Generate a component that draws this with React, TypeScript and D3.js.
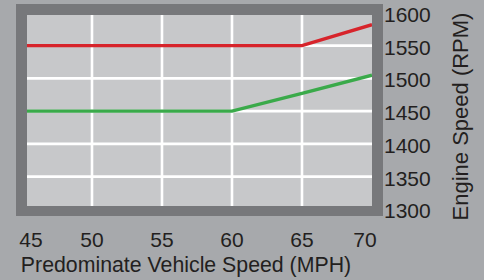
import React, { useEffect, useRef } from "react";
import * as d3 from "d3";

// values
const speeds = [45, 50, 55, 60, 65, 70];
const highRpm = [1550, 1550, 1550, 1550, 1550, 1582];
const lowRpm = [1450, 1450, 1450, 1450, 1477, 1505];
const rpmTicks = [1300, 1350, 1400, 1450, 1500, 1550, 1600];
const gridSpeeds = [50, 55, 60, 65];
const gridRpm = [1350, 1400, 1450, 1500, 1550];

const W = 484;
const H = 280;

export const RpmChart = () => {
  const svgRef = useRef<SVGSVGElement>(null);

  useEffect(() => {
    const svg = d3.select(svgRef.current);
    svg.selectAll("*").remove();

    const inner = { x0: 27, x1: 372, y0: 15, y1: 206 };
    const font = "'Liberation Sans', Arial, Helvetica, sans-serif";
    const ink = "#231f20";

    const x = d3.scaleLinear().domain([45, 70]).range([22, 372]);
    const y = d3.scaleLinear().domain([1300, 1600]).range([209.4, 12.9]);

    svg.append("rect").attr("width", W).attr("height", H).attr("fill", "#a7a9ac");

    // dark frame + light plot area
    svg
      .append("rect")
      .attr("x", 16)
      .attr("y", 4)
      .attr("width", 383 - 16)
      .attr("height", 216 - 4)
      .attr("fill", "#77787b");
    svg
      .append("rect")
      .attr("x", inner.x0)
      .attr("y", inner.y0)
      .attr("width", inner.x1 - inner.x0)
      .attr("height", inner.y1 - inner.y0)
      .attr("fill", "#c7c8ca");

    svg
      .append("defs")
      .append("clipPath")
      .attr("id", "plot-clip")
      .append("rect")
      .attr("x", inner.x0)
      .attr("y", inner.y0)
      .attr("width", inner.x1 - inner.x0)
      .attr("height", inner.y1 - inner.y0);

    const plot = svg.append("g").attr("clip-path", "url(#plot-clip)");

    // white grid
    plot
      .selectAll(".vgrid")
      .data(gridSpeeds)
      .enter()
      .append("line")
      .attr("x1", (d) => x(d))
      .attr("x2", (d) => x(d))
      .attr("y1", inner.y0)
      .attr("y2", inner.y1)
      .attr("stroke", "#fff")
      .attr("stroke-width", 2.6);
    plot
      .selectAll(".hgrid")
      .data(gridRpm)
      .enter()
      .append("line")
      .attr("x1", inner.x0)
      .attr("x2", inner.x1)
      .attr("y1", (d) => y(d))
      .attr("y2", (d) => y(d))
      .attr("stroke", "#fff")
      .attr("stroke-width", 2.6);

    const line = d3
      .line<number>()
      .x((_, i) => x(speeds[i]))
      .y((d) => y(d));

    plot
      .append("path")
      .datum(lowRpm)
      .attr("d", line)
      .attr("fill", "none")
      .attr("stroke", "#3aaa4a")
      .attr("stroke-width", 3.4);
    plot
      .append("path")
      .datum(highRpm)
      .attr("d", line)
      .attr("fill", "none")
      .attr("stroke", "#d7242b")
      .attr("stroke-width", 3.4);

    // right-hand rpm labels
    svg
      .selectAll(".ytick")
      .data(rpmTicks)
      .enter()
      .append("text")
      .attr("x", 384)
      .attr("y", (d) => y(d) + 1.4)
      .attr("dy", "0.36em")
      .attr("font-family", font)
      .attr("font-size", 21)
      .attr("fill", ink)
      .text((d) => d);

    // speed labels (edge labels pulled in like the original)
    svg
      .selectAll(".xtick")
      .data(speeds)
      .enter()
      .append("text")
      .attr("x", (d) => Math.min(Math.max(x(d), 31), 365))
      .attr("y", 246.5)
      .attr("text-anchor", "middle")
      .attr("font-family", font)
      .attr("font-size", 21)
      .attr("fill", ink)
      .text((d) => d);

    svg
      .append("text")
      .attr("x", 186)
      .attr("y", 272)
      .attr("text-anchor", "middle")
      .attr("font-family", font)
      .attr("font-size", 21.3)
      .attr("fill", ink)
      .text("Predominate Vehicle Speed (MPH)");

    svg
      .append("text")
      .attr("transform", "translate(468,116.5) rotate(-90)")
      .attr("text-anchor", "middle")
      .attr("font-family", font)
      .attr("font-size", 22)
      .attr("fill", ink)
      .text("Engine Speed (RPM)");
  }, []);

  return (
    <svg
      ref={svgRef}
      width={W}
      height={H}
      style={{ position: "absolute", left: 0, top: 0, display: "block" }}
    />
  );
};

export default function App() {
  return <RpmChart />;
}
